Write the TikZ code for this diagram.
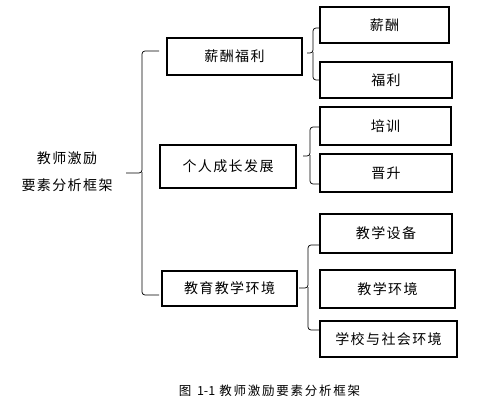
\documentclass[tikz,border=0pt]{standalone}
\usepackage{fontspec}
\newfontfamily\cjk{Noto Sans CJK SC}[LetterSpace=10]
\newfontfamily\cjkcap{Noto Sans CJK SC}[LetterSpace=14]
\newfontfamily\plaincap{Noto Sans CJK SC}
\begin{document}
\begin{tikzpicture}[x=1pt,y=-1pt,
  box/.style={draw, line width=1.1pt, inner sep=0pt, font=\cjk\fontsize{14}{16}\selectfont},
  brace/.style={draw, line width=0.7pt, rounded corners=3pt}]
\useasboundingbox (0,0) rectangle (489,411);
% level 1 label
\node[align=center, font=\cjk\fontsize{14}{27}\selectfont] (root) at (67,171.5) {教师激励\\要素分析框架};
% level 2 boxes
\node[box, minimum width=135pt, minimum height=37pt] (A) at (234.5,56.5) {薪酬福利};
\node[box, minimum width=136pt, minimum height=43pt] (B) at (228,166.5) {个人成长发展};
\node[box, minimum width=135pt, minimum height=35pt] (C) at (229.5,288.5) {教育教学环境};
% level 3 boxes
\node[box, minimum width=129pt, minimum height=36pt] (A1) at (384.5,25) {薪酬};
\node[box, minimum width=132pt, minimum height=36pt] (A2) at (386,80) {福利};
\node[box, minimum width=131pt, minimum height=38pt] (B1) at (385.5,126) {培训};
\node[box, minimum width=132pt, minimum height=38pt] (B2) at (386,173) {晋升};
\node[box, minimum width=132pt, minimum height=39pt] (C1) at (386,233.5) {教学设备};
\node[box, minimum width=135pt, minimum height=38pt] (C2) at (387.5,289) {教学环境};
\node[box, minimum width=137pt, minimum height=36pt] (C3) at (388.5,339) {学校与社会环境};
% braces
\coordinate (m0) at (126,173);
\draw[brace] (m0) -- (142,173) -- (142,51) -- (159,51);
\draw[brace] (142,172) -- (142,295) -- (159,295);
\draw[brace] (307,53) -- (313,53) -- (313,28) -- (A1.west |- 0,28);
\draw[brace] (313,52) -- (313,80) -- (A2.west |- 0,80);
\draw[brace] (303,156) -- (310,156) -- (310,127) -- (B1.west |- 0,127);
\draw[brace] (310,155) -- (310,184) -- (B2.west |- 0,184);
\draw[brace] (299,288) -- (308,288) -- (308,245) -- (C1.west |- 0,245);
\draw[brace] (308,287) -- (308,330) -- (C3.west |- 0,330);
% caption
\node[font=\fontsize{12.5}{14}\selectfont] (cap) at (269.5,391) {{\plaincap 图\ \ 1-1} {\cjkcap 教师激励要素分析框架}};
\end{tikzpicture}
\end{document}
